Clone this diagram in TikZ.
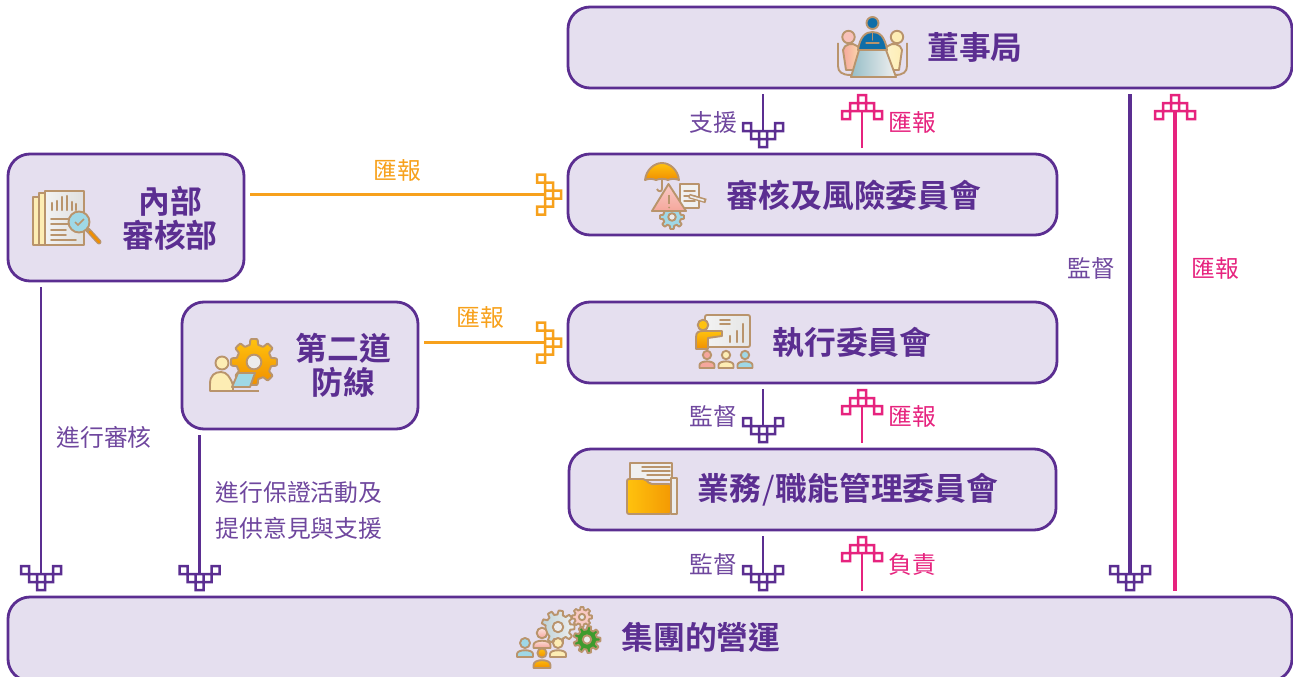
\documentclass[tikz,border=0pt]{standalone}
\usepackage{fontspec}
\setmainfont{Noto Sans CJK TC}
\newfontfamily\boldcjk{Noto Sans CJK TC Bold}
\usetikzlibrary{arrows.meta}
\definecolor{purp}{HTML}{5B2E91}
\definecolor{boxf}{HTML}{E5DFEF}
\definecolor{pinkc}{HTML}{E6237E}
\definecolor{orng}{HTML}{F7A11C}
\definecolor{tan1}{HTML}{B9946C}
\definecolor{ypale}{HTML}{FDEDB4}
\definecolor{pinkp}{HTML}{F5A79C}
\definecolor{bluep}{HTML}{9FD8E6}
\definecolor{orn1}{HTML}{FFC20E}
\definecolor{orn2}{HTML}{F18F00}
\definecolor{grn}{HTML}{3E9B2E}
\definecolor{bluet}{HTML}{0F6EA8}
% one hollow square of the tip, built of four filled bars (x0,y0 lower left, size 8, bar 2.5)
\newcommand{\fretsq}[2]{%
  \pgfpathrectanglecorners{\pgfpoint{#1pt-1.25pt}{#2pt-1.25pt}}{\pgfpoint{#1pt+9.25pt}{#2pt+1.25pt}}%
  \pgfpathrectanglecorners{\pgfpoint{#1pt-1.25pt}{#2pt+6.75pt}}{\pgfpoint{#1pt+9.25pt}{#2pt+9.25pt}}%
  \pgfpathrectanglecorners{\pgfpoint{#1pt-1.25pt}{#2pt-1.25pt}}{\pgfpoint{#1pt+1.25pt}{#2pt+9.25pt}}%
  \pgfpathrectanglecorners{\pgfpoint{#1pt+6.75pt}{#2pt-1.25pt}}{\pgfpoint{#1pt+9.25pt}{#2pt+9.25pt}}}
\pgfdeclarearrow{
  name=fret,
  setup code={%
    \pgfarrowssettipend{17pt}\pgfarrowssetbackend{-9pt}\pgfarrowssetlineend{0pt}%
    \pgfarrowssetvisualbackend{-9pt}\pgfarrowssetvisualtipend{17pt}%
    \pgfarrowshullpoint{17pt}{0pt}\pgfarrowshullpoint{-9pt}{21pt}\pgfarrowshullpoint{-9pt}{-21pt}},
  drawing code={%
    \fretsq{-8}{12}\fretsq{-8}{-20}%
    \fretsq{0}{4}\fretsq{0}{-4}\fretsq{0}{-12}%
    \fretsq{8}{-4}%
    \pgfusepathqfill},
  parameters={0}
}
\tikzset{
  boxn/.style={draw=purp,fill=boxf,line width=2.8pt,rounded corners=22pt,outer sep=0pt,inner sep=0pt},
  title/.style={text=purp,font=\boldcjk\fontsize{31.8}{34}\selectfont,inner sep=0pt,align=center},
  lab/.style={font=\fontsize{23.8}{36}\selectfont,inner sep=0pt},
  labp/.style={lab,text=purp!88!white},
  labk/.style={lab,text=pinkc},
  labo/.style={lab,text=orng},
  conn/.style={-{fret},shorten <=6pt,shorten >=6pt,line width=2.8pt},
  cpurp/.style={conn,draw=purp},
  cpink/.style={conn,draw=pinkc},
  corng/.style={conn,draw=orng},
  heavy/.style={line width=4.2pt},
  ic/.style={draw=tan1,line width=1.9pt,line join=round},
  icl/.style={draw=tan1,line cap=round},
}
% gear: x y router rinner teeth colour-options
\newcommand{\gearic}[6]{%
  \path[ic,#6] plot[domain=0:360,samples=145,variable=\t]
    ({#1+(#4+(#3-#4)*min(1,max(0,0.5+1.6*cos(#5*\t))))*cos(\t)},
     {#2+(#4+(#3-#4)*min(1,max(0,0.5+1.6*cos(#5*\t))))*sin(\t)}) -- cycle;
  \path[ic,fill=white!85!gray] (#1,#2) circle ({0.42*#4});}
% person: x headY headR halfwidth bodyBottom colour
\newcommand{\personic}[6]{%
  \path[ic,#6] ({#1-#4},#5) -- ({#1-#4},{#5-3}) .. controls ({#1-#4},{#2+#3+1}) and ({#1+#4},{#2+#3+1}) .. ({#1+#4},{#5-3}) -- ({#1+#4},#5) -- cycle;
  \path[ic,#6] (#1,#2) circle (#3);}
\begin{document}
\begin{tikzpicture}[x=1pt,y=-1pt]
\useasboundingbox (0,0) rectangle (1293,677);
\clip (0,0) rectangle (1293,677);
% boxes
\node[boxn,minimum width=724pt,minimum height=81pt] (board) at (930,47.5) {};
\node[boxn,minimum width=489pt,minimum height=81pt] (audit) at (812.5,194.5) {};
\node[boxn,minimum width=489pt,minimum height=81pt] (exec) at (812.5,342.5) {};
\node[boxn,minimum width=487pt,minimum height=81pt] (biz) at (812.5,489.5) {};
\node[boxn,minimum width=1284pt,minimum height=84pt] (group) at (650,639) {};
\node[boxn,minimum width=236pt,minimum height=127pt] (internal) at (126,217.5) {};
\node[boxn,minimum width=236pt,minimum height=127pt] (second) at (300,365.5) {};
% titles
\node[title] (t1) at (975,47.5) {董事局};
\node[title] (t2) at (854,195.5) {審核及風險委員會};
\node[title] (t3) at (852,342.5) {執行委員會};
\node[title] (t4) at (848,489.5) {業務\kern1pt{\fontspec{Noto Sans CJK TC}/}\kern1pt職能管理委員會};
\node[title] (t5) at (701,637.5) {集團的營運};
\node[title] (t6) at (170,218.5) {內部\\審核部};
\node[title] (t7) at (343.5,365.5) {第二道\\防線};
% connector guides
\coordinate (xa) at (763,0);
\coordinate (xb) at (862,0);
\coordinate (xc) at (1130,0);
\coordinate (xd) at (1175,0);
\coordinate (xe) at (41,0);
\coordinate (xf) at (199.5,0);
% connectors
\draw[cpurp] (xa |- board.south) -- (xa |- audit.north);
\draw[cpink] (xb |- audit.north) -- (xb |- board.south);
\draw[cpurp] (xa |- exec.south) -- (xa |- biz.north);
\draw[cpink] (xb |- biz.north) -- (xb |- exec.south);
\draw[cpurp] (xa |- biz.south) -- (xa |- group.north);
\draw[cpink] (xb |- group.north) -- (xb |- biz.south);
\draw[cpurp,heavy] (xc |- board.south) -- (xc |- group.north);
\draw[cpink,heavy] (xd |- group.north) -- (xd |- board.south);
\draw[cpurp] (xe |- internal.south) -- (xe |- group.north);
\draw[cpurp] (xf |- second.south) -- (xf |- group.north);
\draw[corng] (audit.west -| internal.east) -- (audit.west);
\draw[corng] (exec.west -| second.east) -- (exec.west);
% labels
\node[labp] (l1) at (713,122) {支援};
\node[labk] (l2) at (912,122) {匯報};
\node[labo] (l3) at (397,170) {匯報};
\node[labo] (l4) at (480,317) {匯報};
\node[labp] (l5) at (713,416) {監督};
\node[labk] (l6) at (912,416) {匯報};
\node[labp] (l7) at (713,564) {監督};
\node[labk] (l8) at (912,564) {負責};
\node[labp] (l9) at (1091,268) {監督};
\node[labk] (l10) at (1215,268) {匯報};
\node[labp] (l11) at (104,437) {進行審核};
\node[labp,align=left] (l12) at (299,510) {進行保證活動及\\提供意見與支援};
% ---- meeting icon
\draw[ic] (838,43) -- (838,66) .. controls (838,72) and (842,75) .. (851,75);
\draw[ic] (907,43) -- (907,66) .. controls (907,72) and (903,75) .. (895,75);
\path[ic,left color=pinkp,right color=ypale] (843,50) .. controls (844,44) and (853,42) .. (857,46) -- (866,53) -- (860,58) -- (857,70) -- (846,70) -- cycle;
\path[ic,left color=ypale!60!white,right color=ypale] (902,50) .. controls (901,44) and (892,42) .. (888,46) -- (879,53) -- (885,58) -- (888,70) -- (899,70) -- cycle;
\path[ic,fill=pinkp!70!white] (848.5,37) circle (6.2);
\path[ic,fill=ypale] (897,37) circle (6.2);
\path[ic,fill=bluet] (872.5,23) circle (6);
\path[ic,fill=bluet] (858,50) .. controls (860,36) and (866,32) .. (872.5,32) .. controls (879,32) and (885,36) .. (887,50) -- cycle;
\draw[icl,line width=1.3pt] (866,43) -- (879,43) (872.5,33) -- (872.5,40);
\path[ic,left color=bluep!70!gray,right color=white!88!gray] (859,50) -- (886,50) -- (896,77) -- (851,77) -- cycle;
% ---- report icon
\path[ic,fill=ypale] (33,197) rectangle (42,245);
\path[ic,fill=ypale] (39,193) rectangle (48,245);
\path[ic,left color=white!90!gray,right color=white!75!gray] (45,191) rectangle (84,245);
\foreach \xx/\yy in {52/203,57/201,62/197,67/196,72/202,76/204}
  \draw[icl,line width=2.2pt] (\xx,210) -- (\xx,\yy);
\foreach \yy/\xe in {219/68,224/68,230/66,235/66,240/76}
  \draw[icl,line width=1.8pt] (51,\yy) -- (\xe,\yy);
\draw[draw=tan1,line width=5pt,line cap=round] (88,230) -- (99,242);
\draw[draw=orn2,line width=2.4pt,line cap=round] (90,232) -- (99,242);
\path[ic,fill=bluep] (79,222) circle (10.5);
\draw[draw=tan1,line width=1.6pt] (75,222) -- (78,225) -- (84,219);
% ---- umbrella / warning icon
\gearic{672}{217}{12}{9}{8}{fill=bluep}
\draw[ic] (662,180) -- (662,189) .. controls (662,192) and (658,192) .. (657,189);
\path[ic,top color=orn1,bottom color=orn2] (645,180) .. controls (646,170) and (654,163) .. (662,163) .. controls (670,163) and (678,170) .. (679,180) .. controls (675,178.5) and (671,178.5) .. (668,180) .. controls (665,178.5) and (659,178.5) .. (656,180) .. controls (653,178.5) and (648,178.5) .. (645,180) -- cycle;
\path[ic,fill=white!88!gray] (680,184) rectangle (699,208);
\foreach \yy in {191,196,201}
  \draw[icl,line width=1.5pt] (684,\yy) -- (695,\yy);
\path[ic,top color=pinkp!60!white,bottom color=pinkp] (668.5,184) -- (686,211) -- (652,211) -- cycle;
\draw[draw=tan1,line width=2pt] (669,195) -- (669,204);
\fill[tan1] (669,207.5) circle (1);
\draw[draw=tan1,line width=4.6pt] (689,196) -- (706,201);
\draw[draw=white!85!gray,line width=1.6pt] (690,196.5) -- (704,200.5);
% ---- gear + person icon
\gearic{254}{362}{23}{17.5}{8}{top color=orn1,bottom color=orn2}
\path[ic,fill=ypale] (222,363) circle (6.5);
\path[ic,fill=ypale] (210,391) -- (210,384) .. controls (210,375) and (215,372) .. (221,372) .. controls (227,372) and (230,377) .. (233,385) -- (233,391) -- cycle;
\path[ic,fill=bluep] (238,373) -- (255,373) -- (250,387) -- (232,387) -- cycle;
\draw[ic] (218,391) -- (259,391);
% ---- presenter icon
\path[ic,rounded corners=2pt,left color=white!90!gray,right color=white!80!gray] (705,315) rectangle (750,347);
\draw[icl,line width=1.7pt] (720,320) -- (730,320);
\draw[icl,line width=1.7pt] (720,324) -- (730,324);
\foreach \xx/\yy in {730/336,737/331,743/324}
  \draw[icl,line width=2.4pt] (\xx,342) -- (\xx,\yy);
\path[ic,top color=orn1,bottom color=orn2] (696,349) -- (696,337) .. controls (696,332) and (699,331) .. (703,331) -- (722,331) -- (722,336) -- (708,338) -- (708,349) -- cycle;
\path[ic,fill=orn1] (703,325) circle (5.3);
\personic{707}{355}{4.2}{7.5}{368}{fill=pinkp}
\personic{726}{355}{4.2}{7.5}{368}{fill=ypale}
\personic{745}{355}{4.2}{7.5}{368}{fill=bluep}
% ---- folder icon
\path[ic,fill=white!88!gray] (630,463) -- (672,463) -- (672,480) -- (630,480) -- cycle;
\foreach \yy/\xa/\xb in {467/642/670,471/642/670,475/647/670}
  \draw[icl,line width=1.5pt] (\xa,\yy) -- (\xb,\yy);
\path[ic,fill=white!85!gray] (671,478) rectangle (677,514);
\path[ic,rounded corners=2pt,left color=orn1,right color=orn2!80!orn1] (627,514) -- (627,479) -- (645,479) -- (650,484) -- (671,484) -- (671,514) -- cycle;
% ---- gears + people icon
\gearic{582}{617}{10}{7.5}{8}{fill=pinkp!60!white}
\gearic{558}{627}{16.5}{12.5}{9}{left color=bluep!60!gray!60!white,right color=white!88!gray}
\gearic{587}{639.5}{13.5}{10}{9}{fill=grn}
\personic{542}{633}{5.3}{8.5}{648}{top color=white!70!pinkp,bottom color=pinkp}
\personic{525}{643}{5}{8}{657}{fill=bluep}
\personic{558}{643}{5}{8}{657}{fill=ypale}
\personic{542}{653}{4.6}{8.5}{668}{top color=orn1,bottom color=orn2}
\end{tikzpicture}
\end{document}
